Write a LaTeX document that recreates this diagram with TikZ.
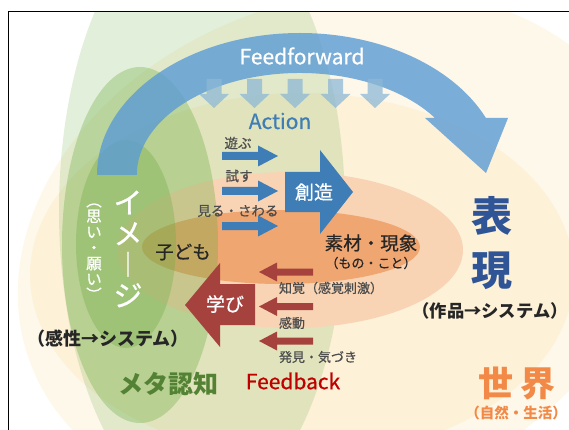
\documentclass[tikz,border=0pt]{standalone}
\usepackage{fontspec}
\setmainfont{Noto Sans CJK JP}
\newfontfamily\medf{Noto Sans CJK JP}[FakeBold=0.7]
\definecolor{worldc}{HTML}{FEF8EB}
\definecolor{hyoc}{HTML}{FDF1D8}
\definecolor{grn}{HTML}{70AD47}
\definecolor{peach}{HTML}{F8D4B4}
\definecolor{orng}{HTML}{F0A670}
\definecolor{ffblue}{HTML}{5B9BD5}
\definecolor{downblue}{HTML}{8DB8D6}
\definecolor{actblue}{HTML}{3E7DB5}
\definecolor{fbred}{HTML}{A5423D}
\definecolor{hyoblue}{HTML}{2F5597}
\definecolor{sekai}{HTML}{F38946}
\definecolor{metag}{HTML}{548235}
\definecolor{txtgray}{HTML}{4D4D4D}
\definecolor{txtdark}{HTML}{262626}
\definecolor{fbtext}{HTML}{C00000}
\begin{document}
\begin{tikzpicture}[x=1pt,y=-1pt,
  lbl/.style={inner sep=0pt, outer sep=0pt},
  actlbl/.style={lbl, text=txtgray, font=\medf\fontsize{13.5}{15}\selectfont},
  fblbl/.style={lbl, text=txtgray, font=\medf\fontsize{13}{15}\selectfont, anchor=west},
  bigtxt/.style={lbl, font=\medf\fontsize{21}{23}\selectfont},
  midtxt/.style={lbl, text=txtdark, font=\medf\fontsize{18.5}{20}\selectfont},
  actarrow/.style={fill=actblue},
  fbarrow/.style={fill=fbred}]
\useasboundingbox (0,0) rectangle (569,430);
\begin{scope}
  \clip (8.5,11.5) rectangle (569,430);
  \fill[worldc, rotate around={20:(335,250)}] (335,250) ellipse [x radius=325pt, y radius=250pt];
  \fill[hyoc] (302,275) ellipse [x radius=272pt, y radius=182pt];
  \fill[grn, opacity=0.2] (202,211) ellipse [x radius=143pt, y radius=301pt];
  \fill[peach] (290,250) ellipse [x radius=173pt, y radius=78pt];
  \fill[orng] (281,247) ellipse [x radius=139pt, y radius=37pt];
  \fill[grn, opacity=0.35] (140,245) ellipse [x radius=78pt, y radius=178pt];
  \fill[grn, opacity=0.35] (126,244) ellipse [x radius=50pt, y radius=104pt];
\end{scope}
\draw[line width=1pt] (8.5,430) -- (8.5,11.5) -- (569,11.5);
% Feedforward arc arrow
\fill[ffblue, opacity=0.8] (97,175) arc[start angle=180, end angle=23.67, x radius=203pt, y radius=142pt]
  -- (508,118) -- (486,173) -- (425,118) -- (435,118)
  arc[start angle=33.97, end angle=180, x radius=163pt, y radius=102pt] -- cycle;
% small down arrows
\foreach \x in {214,254.5,295,335.5,375}
  \fill[downblue, opacity=0.75] (\x-7.5,79) -- (\x+7.5,79) -- (\x+7.5,94) -- (\x+15,94) -- (\x,108) -- (\x-15,94) -- (\x-7.5,94) -- cycle;
% action arrows
\foreach \c in {156,191,226}
  \fill[actarrow] (222,\c-4) -- (258,\c-4) -- (258,\c-10.5) -- (278,\c) -- (258,\c+10.5) -- (258,\c+4) -- (222,\c+4) -- cycle;
% souzou arrow
\fill[actarrow] (285,172) -- (320,172) -- (320,150) -- (353,192) -- (320,234) -- (320,212) -- (285,212) -- cycle;
% manabi arrow
\fill[fbarrow] (255,284) -- (220,284) -- (220,263) -- (185,305) -- (220,347) -- (220,325) -- (255,325) -- cycle;
% feedback arrows
\foreach \c in {272,306.5,341}
  \fill[fbarrow] (313,\c-3.5) -- (277,\c-3.5) -- (277,\c-9.5) -- (259,\c) -- (277,\c+9.5) -- (277,\c+3.5) -- (313,\c+3.5) -- cycle;
% texts
\node[bigtxt, text=white] (ff) at (302,56) {Feedforward};
\node[bigtxt, text=actblue] (act) at (280,121) {Action};
\node[bigtxt, text=fbtext] (fb) at (293,381) {Feedback};
\node[actlbl] (asobu) at (238,143) {遊ぶ};
\node[actlbl] (tamesu) at (239,176) {試す};
\node[actlbl] (miru) at (238,211) {見る・さわる};
\node[lbl, text=white, font=\medf\fontsize{19}{21}\selectfont] (souzou) at (314,192) {創造};
\node[lbl, text=white, font=\medf\fontsize{19}{21}\selectfont] (manabi) at (225,304) {学び};
\node[midtxt] (kodomo) at (183,252) {子ども};
\node[midtxt] (sozai) at (371,243) {素材・現象};
\node[lbl, text=txtdark, font=\medf\fontsize{13}{15}\selectfont] (mono) at (371,263) {（もの・こと）};
\node[fblbl] (chikaku) at (279,288) {知覚（感覚刺激）};
\node[fblbl] (kandou) at (279,323) {感動};
\node[fblbl] (hakken) at (279,357) {発見・気づき};
\node[lbl, text=white, font=\medf\fontsize{29}{31}\selectfont, align=center] (image) at (128,249) {イ\\メ\\︱\\ジ};
\node[lbl, text=white, font=\medf\fontsize{15.5}{15.7}\selectfont, align=center] (omoi) at (94,252) {︵\\思\\い\\・\\願\\い\\︶};
\node[lbl, text=txtdark, font=\fontsize{18}{20}\selectfont\bfseries] (kansei) at (108,339) {（感性→システム）};
\node[lbl, text=metag, font=\fontsize{25}{27}\selectfont\bfseries] (meta) at (168,384) {メタ認知};
\node[lbl, text=hyoblue, font=\fontsize{41}{54}\selectfont\bfseries, align=center] (hyogen) at (492,243) {表\\現};
\node[lbl, text=txtdark, font=\fontsize{17.3}{19}\selectfont\bfseries] (sakuhin) at (490,311) {（作品→システム）};
\node[lbl, text=sekai, font=\fontsize{35}{37}\selectfont\bfseries] (sekai) at (517,384) {世\hspace{7pt}界};
\node[lbl, text=sekai, font=\fontsize{14.5}{16}\selectfont\bfseries] (shizen) at (516,413) {（自然・生活）};
\end{tikzpicture}
\end{document}
